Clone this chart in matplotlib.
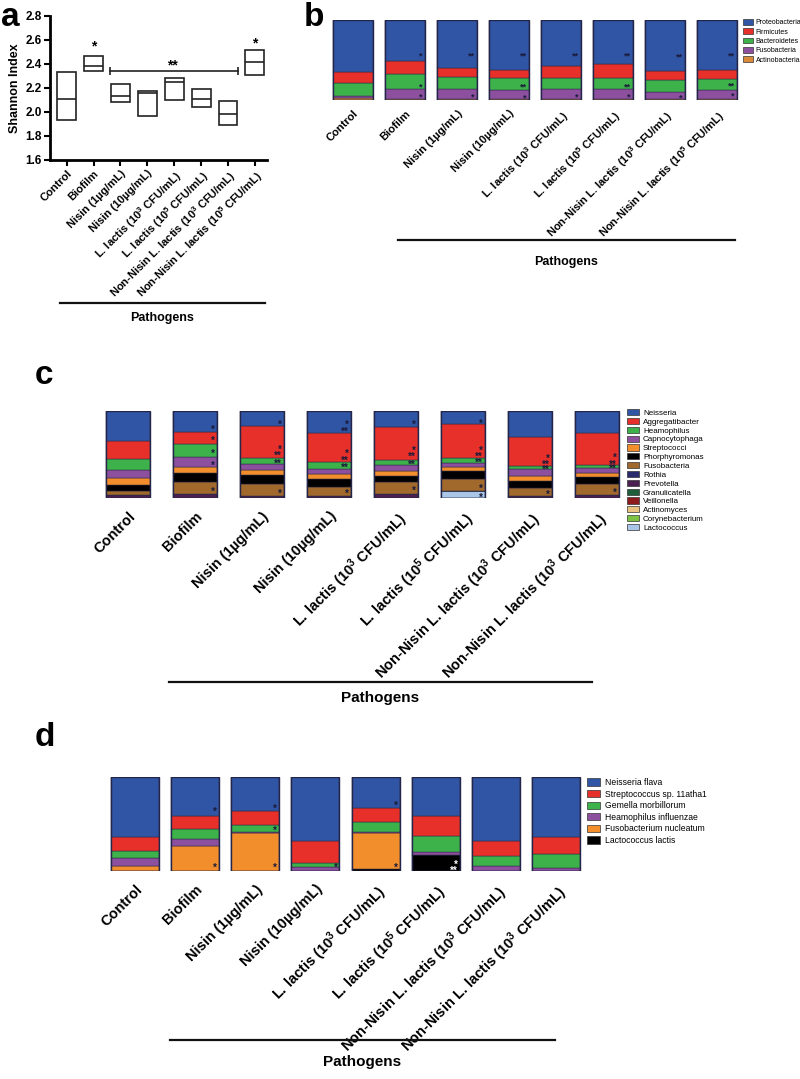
import numpy as np
import matplotlib
matplotlib.use('Agg')
import matplotlib.pyplot as plt
from matplotlib.patches import Patch

plt.rcParams['font.family'] = ['Liberation Sans', 'DejaVu Sans']
plt.rcParams['mathtext.fontset'] = 'custom'
plt.rcParams['mathtext.rm'] = 'Liberation Sans:bold'
plt.rcParams['mathtext.it'] = 'Liberation Sans:bold'
plt.rcParams['mathtext.bf'] = 'Liberation Sans:bold'
plt.rcParams['mathtext.default'] = 'rm'

# ---------------- data ----------------
labels_ab = ['Control', 'Biofilm', 'Nisin (1µg/mL)', 'Nisin (10µg/mL)',
             'L. lactis (10$^{3}$ CFU/mL)', 'L. lactis (10$^{5}$ CFU/mL)',
             'Non-Nisin L. lactis (10$^{3}$ CFU/mL)', 'Non-Nisin L. lactis (10$^{5}$ CFU/mL)']
labels_cd = ['Control', 'Biofilm', 'Nisin (1µg/mL)', 'Nisin (10µg/mL)',
             'L. lactis (10$^{3}$ CFU/mL)', 'L. lactis (10$^{5}$ CFU/mL)',
             'Non-Nisin L. lactis (10$^{3}$ CFU/mL)', 'Non-Nisin L. lactis (10$^{3}$ CFU/mL)']

# panel a: Shannon index (min, max, median)
shannon_low = [1.93, 2.34, 2.08, 1.97, 2.10, 2.04, 1.89, 2.31]
shannon_high = [2.33, 2.47, 2.23, 2.175, 2.28, 2.19, 2.09, 2.52]
shannon_med = [2.11, 2.38, 2.13, 2.155, 2.25, 2.11, 1.98, 2.42]

# panel b: phyla (%)
phyla = ['Proteobacteria', 'Firmicutes', 'Bacteroidetes', 'Fusobacteria', 'Actinobacteria']
proteobacteria = [65, 51.5, 60, 62, 57, 55, 64, 62]
firmicutes = [14, 15.5, 11, 11, 15.5, 17.5, 10.5, 12]
bacteroidetes = [16, 19, 15, 14.5, 14, 14, 16, 13]
fusobacteria_phylum = [2, 12.5, 12.5, 11.5, 12.5, 12.5, 8.5, 12]
actinobacteria = [3, 1.5, 1.5, 1, 1, 1, 1, 1]
phyla_colors = ['#2f55a4', '#e8302a', '#3db24b', '#8c509f', '#d9893a']

# panel c: genera (%)
genera = ['Neisseria', 'Aggregatibacter', 'Heamophilus', 'Capnocytophaga', 'Streptococci',
          'Phorphyromonas', 'Fusobacteria', 'Rothia', 'Prevotella', 'Granulicatella',
          'Veillonella', 'Actinomyces', 'Corynebacterium', 'Lactococcus']
neisseria = [34.6, 24, 17, 25, 18, 15.6, 30.4, 25]
aggregatibacter = [20.5, 14, 37, 34, 38, 38.8, 32.7, 37]
heamophilus = [12.5, 15.2, 7, 8, 5.7, 5, 3.4, 3.8]
capnocytophaga = [9.5, 10.6, 7, 5, 6.5, 4.6, 8.7, 5]
streptococci = [7.6, 7.6, 6, 6, 6, 5.7, 5.7, 5.7]
phorphyromonas = [7.6, 10.6, 10, 9, 7.6, 8.4, 7.6, 7.6]
fusobacteria_genus = [4.6, 13.3, 14, 11, 13.3, 13.7, 9.5, 13]
rothia = [0, 0, 0, 0, 0, 0, 0, 0]
prevotella = [3, 4.6, 2, 2, 4.6, 0, 2, 3]
granulicatella = [0, 0, 0, 0, 0, 0, 0, 0]
veillonella = [0, 0, 0, 0, 0, 0, 0, 0]
actinomyces = [0, 0, 0, 0, 0, 0, 0, 0]
corynebacterium = [0, 0, 0, 0, 0, 0, 0, 0]
lactococcus = [0, 0, 0, 0, 0, 8.4, 0, 0]
genera_colors = ['#2f55a4', '#e8302a', '#3db24b', '#8c509f', '#f28e2b', '#000000', '#a2692c',
                 '#2a2a6e', '#4b1f50', '#1f5e3b', '#8e1b1b', '#e8c27e', '#7cc243', '#a9c5e8']

# panel d: species (%)
species = ['Neisseria flava', 'Streptococcus sp. 11atha1', 'Gemella morbillorum',
           'Heamophilus influenzae', 'Fusobacterium nucleatum', 'Lactococcus lactis']
neisseria_flava = [63.6, 41.3, 36, 68.2, 32.9, 41.3, 67.8, 64.3]
streptococcus_sp = [15.2, 14.1, 15.2, 23, 15.5, 21.2, 16.3, 18]
gemella_morbillorum = [7.8, 10.6, 7.1, 4.2, 10.2, 17, 10.6, 14.1]
haemophilus_influenzae = [7.8, 7.4, 1.8, 4.6, 1.4, 3.5, 5.3, 3.6]
fusobacterium_nucleatum = [5.6, 26.5, 39.9, 0, 38.2, 0, 0, 0]
lactococcus_lactis = [0, 0, 0, 0, 1.8, 17, 0, 0]
species_colors = ['#2f55a4', '#e8302a', '#3db24b', '#8c509f', '#f28e2b', '#000000']

# significance marks: (bar index, height %, text)
stars_b = [(1, 58.8, '*'), (1, 19.7, '*'), (1, 7.1, '*'),
           (2, 58.8, '**'), (2, 7.1, '*'),
           (3, 58.8, '**'), (3, 20, '**'), (3, 6, '*'),
           (4, 58.8, '**'), (4, 7.1, '*'),
           (5, 58.8, '**'), (5, 20, '**'), (5, 7.1, '*'),
           (6, 57.6, '**'), (6, 6, '*'),
           (7, 58.8, '**'), (7, 21, '**'), (7, 8, '*')]
stars_c = [(1, 81.7, '*'), (1, 68.4, '*'), (1, 54.4, '*'), (1, 40.7, '*'), (1, 10.3, '*'),
           (2, 87.5, '*'), (2, 58.9, '*'), (2, 52.1, '**'), (2, 42.6, '**'), (2, 7.6, '*'),
           (3, 87.5, '*'), (3, 79.8, '**'), (3, 54.4, '*'), (3, 46.4, '**'), (3, 37.3, '**'), (3, 8.4, '*'),
           (4, 87.5, '*'), (4, 57, '*'), (4, 50.2, '**'), (4, 41.8, '**'), (4, 11.4, '*'),
           (5, 88.2, '*'), (5, 57.8, '*'), (5, 50.2, '**'), (5, 43.7, '**'), (5, 13.3, '*'), (5, 3.8, '*'),
           (6, 48.7, '*'), (6, 41.8, '**'), (6, 35.4, '**'), (6, 6.8, '*'),
           (7, 49.4, '*'), (7, 41.8, '**'), (7, 36.9, '**'), (7, 9.5, '*')]
stars_d = [(1, 65.7, '*'), (1, 6.4, '*'),
           (2, 69.3, '*'), (2, 45.2, '*'), (2, 6.4, '*'),
           (3, 6.7, '*'),
           (4, 72.4, '*'), (4, 6.4, '*')]
stars_d_white = [(5, 9.2, '*'), (5, 2.8, '**')]

# ---------------- figure ----------------
W, H = 800, 1079
fig = plt.figure(figsize=(W / 100, H / 100), dpi=100)


def px_axes(x0, y0, x1, y1):
    return fig.add_axes([x0 / W, 1 - y1 / H, (x1 - x0) / W, (y1 - y0) / H])


def pathogens(x0, x1, y, ty, fs):
    fig.add_artist(plt.Line2D([x0 / W, x1 / W], [1 - y / H, 1 - y / H], color='#111', lw=1.6))
    fig.text((x0 + x1) / 2 / W, 1 - ty / H, 'Pathogens', ha='center', va='center',
             fontsize=fs, fontweight='bold')


def stacked(ax, layers_top_first, colors, width, labels, lab_fs, pad):
    x = np.arange(8)
    bottom = np.zeros(8)
    for vals, col in reversed(list(zip(layers_top_first, colors))):
        vals = np.asarray(vals, float)
        ax.bar(x, vals, width, bottom=bottom, color=col, edgecolor='#2a2a45', linewidth=0.35)
        bottom += vals
    ax.bar(x, bottom, width, fill=False, edgecolor='#23264a', linewidth=1.0)
    ax.set_xlim(-0.5, 7.5)
    ax.set_ylim(0, 100)
    for s in ax.spines.values():
        s.set_visible(False)
    ax.set_yticks([])
    ax.set_xticks(x)
    ax.set_xticklabels(labels, rotation=45, ha='right', rotation_mode='anchor',
                       fontsize=lab_fs, fontweight='bold')
    ax.tick_params(axis='x', length=0, pad=pad)


def add_stars(ax, items, width, fs, color):
    for i, y, s in items:
        ax.annotate(s, (i + width / 2, y), xytext=(-1.5, -2.0), textcoords='offset points',
                    ha='right', va='center', fontsize=fs, color=color, fontweight='bold')


# ---- panel a ----
axa = px_axes(50, 16, 267, 160)
xa = np.arange(8)
lo = np.array(shannon_low)
hi = np.array(shannon_high)
axa.bar(xa, hi - lo, bottom=lo, width=0.7, fill=False, edgecolor='#222', linewidth=1.2)
axa.hlines(shannon_med, xa - 0.35, xa + 0.35, color='#222', linewidth=1.2)
axa.set_ylim(1.6, 2.8)
axa.set_xlim(-0.62, 7.45)
axa.set_yticks(np.arange(1.6, 2.81, 0.2))
axa.set_yticklabels(['%.1f' % v for v in np.arange(1.6, 2.81, 0.2)], fontsize=8.5, fontweight='bold')
axa.set_xticks(xa)
axa.set_xticklabels(labels_ab, rotation=45, ha='right', rotation_mode='anchor',
                    fontsize=8, fontweight='bold')
for s in ['top', 'right']:
    axa.spines[s].set_visible(False)
for s in ['left', 'bottom']:
    axa.spines[s].set_linewidth(2)
axa.tick_params(direction='out', length=4, width=1.5, pad=2)
axa.set_ylabel('Shannon Index', fontsize=9, fontweight='bold', labelpad=3)
axa.text(1, 2.55, '*', ha='center', va='center', fontsize=10, fontweight='bold')
axa.text(7, 2.57, '*', ha='center', va='center', fontsize=10, fontweight='bold')
axa.plot([1.6, 6.36], [2.342, 2.342], color='#222', lw=1.2, marker='|', markersize=6, mew=1.2)
axa.text(3.94, 2.385, '**', ha='center', va='center', fontsize=10, fontweight='bold')
pathogens(60, 265, 303, 318, 9)
fig.text(1 / W, 1 - 17 / H, 'a', fontsize=24, fontweight='bold', ha='left', va='center')

# ---- panel b ----
axb = px_axes(327, 20, 743, 100)
layers_b = [proteobacteria, firmicutes, bacteroidetes, fusobacteria_phylum, actinobacteria]
stacked(axb, layers_b, phyla_colors, 0.77, labels_ab, 8, 6)
add_stars(axb, stars_b, 0.77, 6.5, '#1a1a3a')
handles_b = [Patch(facecolor=c, edgecolor='#333', linewidth=0.5, label=l) for c, l in zip(phyla_colors, phyla)]
fig.legend(handles=handles_b, loc='upper left', bbox_to_anchor=(743 / W, 1 - 19 / H), frameon=False,
           fontsize=5, handlelength=1.4, handleheight=0.9, labelspacing=0.3, handletextpad=0.4,
           borderpad=0, borderaxespad=0)
pathogens(398, 735, 240, 262, 9)
fig.text(304 / W, 1 - 17 / H, 'b', fontsize=24, fontweight='bold', ha='left', va='center')

# ---- panel c ----
axc = px_axes(94.5, 411, 630.5, 498)
layers_c = [neisseria, aggregatibacter, heamophilus, capnocytophaga, streptococci, phorphyromonas,
            fusobacteria_genus, rothia, prevotella, granulicatella, veillonella, actinomyces,
            corynebacterium, lactococcus]
stacked(axc, layers_c, genera_colors, 0.66, labels_cd, 10.5, 8)
add_stars(axc, stars_c, 0.66, 7, '#1a1a3a')
handles_c = [Patch(facecolor=c, edgecolor='#333', linewidth=0.5, label=l) for c, l in zip(genera_colors, genera)]
fig.legend(handles=handles_c, loc='upper left', bbox_to_anchor=(627 / W, 1 - 409 / H), frameon=False,
           fontsize=5.8, handlelength=1.5, handleheight=0.8, labelspacing=0.12, handletextpad=0.5,
           borderpad=0, borderaxespad=0)
pathogens(169, 592, 682, 698, 11)
fig.text(35 / W, 1 - 375 / H, 'c', fontsize=24, fontweight='bold', ha='left', va='center')

# ---- panel d ----
axd = px_axes(105, 777, 586, 871)
layers_d = [neisseria_flava, streptococcus_sp, gemella_morbillorum, haemophilus_influenzae,
            fusobacterium_nucleatum, lactococcus_lactis]
stacked(axd, layers_d, species_colors, 0.8, labels_cd, 10.5, 8)
add_stars(axd, stars_d, 0.8, 7, '#1a1a3a')
add_stars(axd, stars_d_white, 0.8, 7, 'white')
handles_d = [Patch(facecolor=c, edgecolor='#333', linewidth=0.5, label=l) for c, l in zip(species_colors, species)]
fig.legend(handles=handles_d, loc='upper left', bbox_to_anchor=(587 / W, 1 - 778 / H), frameon=False,
           fontsize=6.2, handlelength=1.5, handleheight=0.9, labelspacing=0.3, handletextpad=0.6,
           borderpad=0, borderaxespad=0)
pathogens(170, 555, 1040, 1062, 11)
fig.text(35 / W, 1 - 738 / H, 'd', fontsize=24, fontweight='bold', ha='left', va='center')

fig.savefig('out.png', dpi=100)
